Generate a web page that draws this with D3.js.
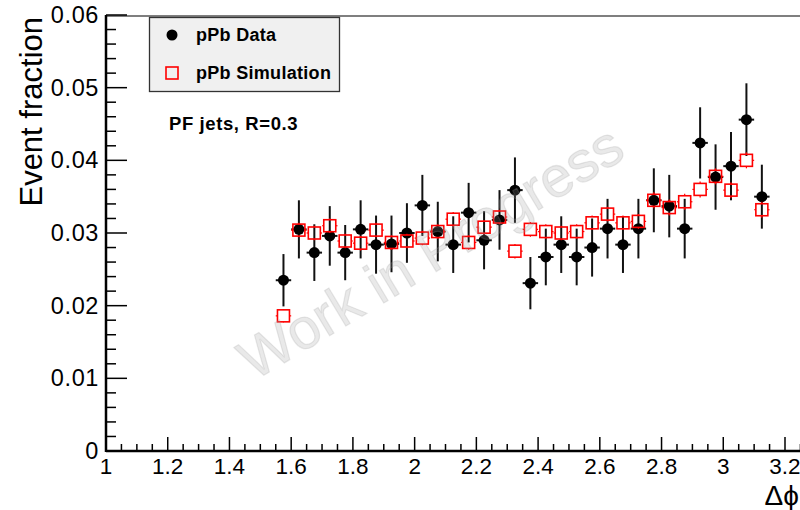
<!DOCTYPE html>
<html>
<head>
<meta charset="utf-8">
<script src="https://cdn.jsdelivr.net/npm/d3@7"></script>
<style>
  html, body { margin: 0; padding: 0; background: #fff; }
  svg { display: block; font-family: "Liberation Sans", Arial, Helvetica, sans-serif; }
</style>
</head>
<body>
<svg id="chart" width="800" height="510"></svg>
<script>
// Δφ bin centres (bin width 0.05)
const binCenters = [1.575, 1.625, 1.675, 1.725, 1.775, 1.825, 1.875, 1.925, 1.975, 2.025,
                    2.075, 2.125, 2.175, 2.225, 2.275, 2.325, 2.375, 2.425, 2.475, 2.525,
                    2.575, 2.625, 2.675, 2.725, 2.775, 2.825, 2.875, 2.925, 2.975, 3.025,
                    3.075, 3.125];
const binHalfWidth = 0.025;

// pPb data: event fraction and statistical error
const dataValues = [0.0235, 0.0305, 0.0273, 0.0296, 0.0273, 0.0305, 0.0284, 0.0285, 0.0300, 0.0338,
                    0.0302, 0.0284, 0.0328, 0.0290, 0.0318, 0.0359, 0.0231, 0.0267, 0.0284, 0.0267,
                    0.0280, 0.0306, 0.0284, 0.0306, 0.0345, 0.0337, 0.0306, 0.0424, 0.0377, 0.0392,
                    0.0456, 0.0350];
const dataErrors = [0.0036, 0.0040, 0.0039, 0.0041, 0.0038, 0.0040, 0.0040, 0.0039, 0.0041, 0.0042,
                    0.0041, 0.0039, 0.0041, 0.0040, 0.0041, 0.0045, 0.0036, 0.0039, 0.0039, 0.0039,
                    0.0040, 0.0041, 0.0039, 0.0041, 0.0044, 0.0043, 0.0041, 0.0049, 0.0045, 0.0047,
                    0.0050, 0.0044];

// pPb simulation: event fraction and statistical error
const simValues = [0.0186, 0.0304, 0.0300, 0.0310, 0.0289, 0.0286, 0.0304, 0.0287, 0.0289, 0.0293,
                   0.0302, 0.0319, 0.0287, 0.0308, 0.0322, 0.0275, 0.0305, 0.0302, 0.0300, 0.0302,
                   0.0314, 0.0326, 0.0314, 0.0316, 0.0345, 0.0335, 0.0343, 0.0360, 0.0378, 0.0359,
                   0.0400, 0.0332];
const simErrors = [0.0009, 0.0010, 0.0010, 0.0010, 0.0010, 0.0010, 0.0010, 0.0010, 0.0010, 0.0010,
                   0.0010, 0.0010, 0.0010, 0.0010, 0.0010, 0.0010, 0.0010, 0.0010, 0.0010, 0.0010,
                   0.0010, 0.0010, 0.0010, 0.0010, 0.0011, 0.0011, 0.0011, 0.0011, 0.0011, 0.0011,
                   0.0011, 0.0011];

const xTickValues = [1, 1.2, 1.4, 1.6, 1.8, 2, 2.2, 2.4, 2.6, 2.8, 3, 3.2];
const yTickValues = [0, 0.01, 0.02, 0.03, 0.04, 0.05, 0.06];
const legendLabels = ["pPb Data", "pPb Simulation"];

const svg = d3.select("#chart");
const W = 800, H = 510;
const plotLeft = 106, plotRight = 785, plotTop = 15, plotBottom = 451;

const x = d3.scaleLinear().domain([1, 3.2]).range([plotLeft, plotRight]);
const y = d3.scaleLinear().domain([0, 0.06]).range([plotBottom, plotTop]);

const data = binCenters.map((c, i) => ({
  x: c, v: dataValues[i], e: dataErrors[i], s: simValues[i], se: simErrors[i]
}));

// frame: top edge continues past the visible area
svg.append("line")
  .attr("x1", plotLeft).attr("x2", W).attr("y1", 16).attr("y2", 16)
  .attr("stroke", "#555").attr("stroke-width", 1.5);

// y axis
const yMinor = d3.range(0, 30).map(i => i * 0.002)
  .filter((v, i) => i % 5 !== 0);
const yAxis = svg.append("g");
yAxis.selectAll("line.minor").data(yMinor).join("line").attr("class", "minor")
  .attr("x1", plotLeft).attr("x2", plotLeft + 10)
  .attr("y1", d => y(d)).attr("y2", d => y(d))
  .attr("stroke", "#000").attr("stroke-width", 1.5);
yAxis.selectAll("line.major").data(yTickValues).join("line").attr("class", "major")
  .attr("x1", plotLeft).attr("x2", plotLeft + 21)
  .attr("y1", d => y(d)).attr("y2", d => y(d))
  .attr("stroke", "#000").attr("stroke-width", 1.5);
yAxis.selectAll("text").data(yTickValues).join("text")
  .attr("x", 99).attr("y", d => y(d) + 8)
  .attr("text-anchor", "end")
  .attr("font-size", 23.5).attr("letter-spacing", 0.6).attr("fill", "#000")
  .text(d => d === 0 ? "0" : d3.format(".2f")(d));
yAxis.append("line")
  .attr("x1", plotLeft).attr("x2", plotLeft).attr("y1", plotTop).attr("y2", plotBottom + 1)
  .attr("stroke", "#000").attr("stroke-width", 2.5);

// x axis
const xMinor = d3.range(0, 46).map(i => 1 + i * 0.05)
  .filter((v, i) => i % 4 !== 0);
const xAxis = svg.append("g");
xAxis.selectAll("line.minor").data(xMinor).join("line").attr("class", "minor")
  .attr("x1", d => x(d)).attr("x2", d => x(d))
  .attr("y1", plotBottom).attr("y2", plotBottom - 7)
  .attr("stroke", "#000").attr("stroke-width", 1.5);
xAxis.selectAll("line.major").data(xTickValues).join("line").attr("class", "major")
  .attr("x1", d => x(d)).attr("x2", d => x(d))
  .attr("y1", plotBottom).attr("y2", plotBottom - 14)
  .attr("stroke", "#000").attr("stroke-width", 1.5);
xAxis.selectAll("text").data(xTickValues).join("text")
  .attr("x", d => x(d)).attr("y", 474)
  .attr("text-anchor", "middle")
  .attr("font-size", 22.5).attr("fill", "#000")
  .text(d => d3.format("~g")(d));
xAxis.append("line")
  .attr("x1", plotLeft).attr("x2", W).attr("y1", plotBottom).attr("y2", plotBottom)
  .attr("stroke", "#000").attr("stroke-width", 2.5);

// axis titles
svg.append("text")
  .attr("transform", "translate(42,17) rotate(-90)")
  .attr("text-anchor", "end")
  .attr("font-size", 31).attr("fill", "#000")
  .text("Event fraction");
svg.append("text")
  .attr("x", 799).attr("y", 505)
  .attr("text-anchor", "end")
  .attr("font-size", 28).attr("fill", "#000")
  .text("Δϕ");

// data: error bars then markers
const gData = svg.append("g");
gData.selectAll("line.ey").data(data).join("line").attr("class", "ey")
  .attr("x1", d => x(d.x)).attr("x2", d => x(d.x))
  .attr("y1", d => y(d.v - d.e)).attr("y2", d => y(d.v + d.e))
  .attr("stroke", "#111").attr("stroke-width", 2);
gData.selectAll("line.ex").data(data).join("line").attr("class", "ex")
  .attr("x1", d => x(d.x - binHalfWidth)).attr("x2", d => x(d.x + binHalfWidth))
  .attr("y1", d => y(d.v)).attr("y2", d => y(d.v))
  .attr("stroke", "#111").attr("stroke-width", 2);
gData.selectAll("circle").data(data).join("circle")
  .attr("cx", d => x(d.x)).attr("cy", d => y(d.v))
  .attr("r", 5.5).attr("fill", "#000");

// simulation: open squares; error stubs drawn only outside the marker
const sq = 12, h = sq / 2;
const gSim = svg.append("g");
const stub = (sel, cls, f) => sel.selectAll("line." + cls).data(data).join("line")
  .attr("class", cls).each(function (d) {
    const [x1, y1, x2, y2] = f(d);
    d3.select(this).attr("x1", x1).attr("y1", y1).attr("x2", x2).attr("y2", y2);
  })
  .attr("stroke", "#f00").attr("stroke-width", 1.2);
stub(gSim, "up", d => [x(d.x), y(d.s) - h, x(d.x), Math.min(y(d.s) - h, y(d.s + d.se))]);
stub(gSim, "dn", d => [x(d.x), y(d.s) + h, x(d.x), Math.max(y(d.s) + h, y(d.s - d.se))]);
stub(gSim, "lt", d => [x(d.x - binHalfWidth), y(d.s), x(d.x) - h, y(d.s)]);
stub(gSim, "rt", d => [x(d.x) + h, y(d.s), x(d.x + binHalfWidth), y(d.s)]);
gSim.selectAll("rect").data(data).join("rect")
  .attr("x", d => x(d.x) - h).attr("y", d => y(d.s) - h)
  .attr("width", sq).attr("height", sq)
  .attr("fill", "none").attr("stroke", "#f00").attr("stroke-width", 1.6);

// legend
const lg = svg.append("g");
lg.append("rect")
  .attr("x", 149.5).attr("y", 17.5).attr("width", 190).attr("height", 74)
  .attr("fill", "#f0f0f0").attr("stroke", "#333").attr("stroke-width", 1.3);
lg.append("circle").attr("cx", 172).attr("cy", 35).attr("r", 5.5).attr("fill", "#000");
lg.append("rect").attr("x", 166).attr("y", 67).attr("width", 12).attr("height", 12)
  .attr("fill", "none").attr("stroke", "#f00").attr("stroke-width", 1.6);
lg.selectAll("text").data(legendLabels).join("text")
  .attr("x", 196).attr("y", (d, i) => 41 + i * 38)
  .attr("font-size", 18).attr("font-weight", "bold").attr("letter-spacing", 0.3)
  .attr("fill", "#000")
  .text(d => d);

svg.append("text")
  .attr("x", 169).attr("y", 130)
  .attr("font-size", 18.5).attr("font-weight", "bold").attr("letter-spacing", 0.6)
  .attr("fill", "#000")
  .text("PF jets, R=0.3");

// watermark
svg.append("text")
  .attr("transform", "translate(433,256) rotate(-31)")
  .attr("text-anchor", "middle").attr("dominant-baseline", "middle")
  .attr("font-size", 57).attr("fill", "#999").attr("fill-opacity", 0.22)
  .attr("stroke", "#999").attr("stroke-opacity", 0.22).attr("stroke-width", 1.2)
  .attr("paint-order", "stroke")
  .text("Work in Progress");
</script>
</body>
</html>
